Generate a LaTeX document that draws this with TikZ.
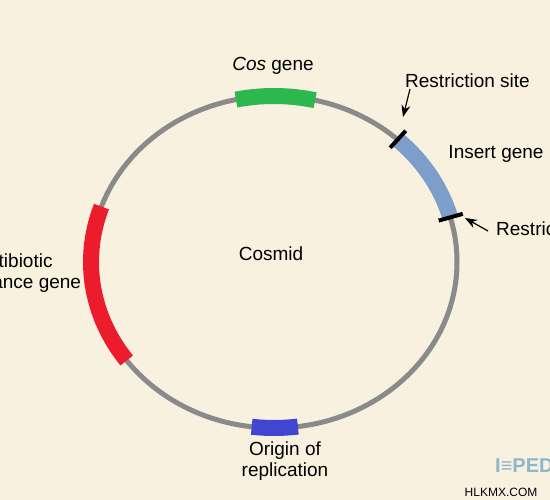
\documentclass[tikz,border=0pt]{standalone}
\usepackage{fontspec}
\setmainfont{Liberation Sans}
\usetikzlibrary{calc,arrows.meta}
\definecolor{bg}{HTML}{F8F1DF}
\definecolor{ringgray}{HTML}{8A8A8A}
\definecolor{cosgreen}{HTML}{2CB84E}
\definecolor{insblue}{HTML}{7D9DCB}
\definecolor{antired}{HTML}{EC1C2C}
\definecolor{oriblue}{HTML}{4046D2}
\definecolor{logoblue}{HTML}{8BB9CA}
\begin{document}
\begin{tikzpicture}[x=1pt,y=1pt,
  lbl/.style={font=\fontsize{19}{21}\selectfont, inner sep=0pt, text=black, align=center},
  ring/.style={draw=ringgray, line width=5pt},
  band/.style={line width=16pt},
  cut/.style={draw=black, line width=4pt},
  arr/.style={draw=black, line width=1.2pt, -{Stealth[length=12pt,width=9pt]}}]
\fill[bg] (0,0) rectangle (550,500);
\useasboundingbox (0,0) rectangle (550,500);
\coordinate (c) at (274,238);
% ring
\draw[ring] (c) ellipse [x radius=183, y radius=166];
% gene bands
\draw[band, draw=cosgreen] ($(c)+(77:183 and 166)$) arc[start angle=77, end angle=102, x radius=183, y radius=166];
\draw[band, draw=insblue] ($(c)+(15.6:183 and 166)$) arc[start angle=15.6, end angle=47.5, x radius=183, y radius=166];
\draw[band, draw=antired] ($(c)+(160.5:183 and 166)$) arc[start angle=160.5, end angle=216.4, x radius=183, y radius=166];
\draw[band, draw=oriblue] ($(c)+(263:183 and 166)$) arc[start angle=263, end angle=277.5, x radius=183, y radius=166];
% restriction marks
\coordinate (m1a) at ($(c)+(47.5:172 and 155)$);
\coordinate (m1b) at ($(c)+(47.5:195 and 178)$);
\coordinate (m2a) at ($(c)+(15.6:171 and 154)$);
\coordinate (m2b) at ($(c)+(15.6:196 and 179)$);
\draw[cut] (m1a) -- (m1b);
\draw[cut] (m2a) -- (m2b);
% labels
\node[lbl] (cos) at (273,434) {\textit{Cos} gene};
\node[lbl, anchor=west] (rs1) at (405,419) {Restriction site};
\node[lbl] (ins) at (496,346) {Insert gene};
\node[lbl, anchor=west] (rs2) at (496,271) {Restriction site};
\node[lbl] (cosmid) at (271,246) {Cosmid};
\node[lbl] (anti) at (14,227) {Antibiotic\\resistance gene};
\node[lbl] (ori) at (285,39) {Origin of\\replication};
% arrows
\coordinate (a1s) at (410,411);
\coordinate (a1e) at (403,383);
\coordinate (a2s) at (488,269);
\coordinate (a2e) at (465,282);
\draw[arr] (a1s) -- (a1e);
\draw[arr] (a2s) -- (a2e);
% watermark
\node[font=\fontsize{20}{22}\selectfont\bfseries, text=logoblue, anchor=west, inner sep=0pt] (logo) at (495,34) {I≡PED};
\node[font=\fontsize{12}{14}\selectfont, text=black, inner sep=0pt] (wm) at (501,8) {HLKMX.COM};
\end{tikzpicture}
\end{document}
